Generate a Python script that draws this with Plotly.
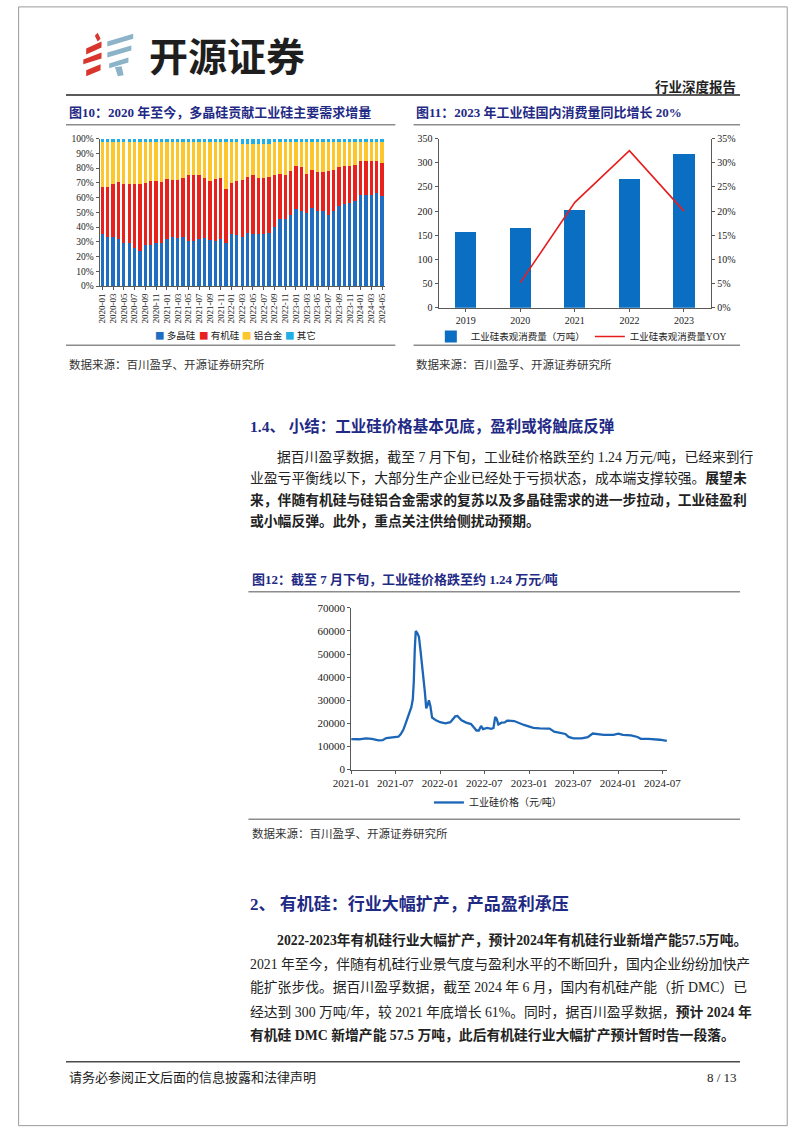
import plotly.graph_objects as go

W, H = 802, 1133

# ---------------- Data ----------------
months = ["2020-01","2020-02","2020-03","2020-04","2020-05","2020-06","2020-07","2020-08","2020-09","2020-10","2020-11","2020-12",
          "2021-01","2021-02","2021-03","2021-04","2021-05","2021-06","2021-07","2021-08","2021-09","2021-10","2021-11","2021-12",
          "2022-01","2022-02","2022-03","2022-04","2022-05","2022-06","2022-07","2022-08","2022-09","2022-10","2022-11","2022-12",
          "2023-01","2023-02","2023-03","2023-04","2023-05","2023-06","2023-07","2023-08","2023-09","2023-10","2023-11","2023-12",
          "2024-01","2024-02","2024-03","2024-04","2024-05"]
month_ticks = months[::2]

polysilicon = [35,33,33,32,29.5,29.5,26,24,28,28,29,29,
               32,33,32.5,33.5,30.5,30.5,32,32.5,31,30.5,32,29.5,
               35,34.5,33.5,36,35,35,35.5,36,40,45.5,45.5,48,
               52.5,51,49.5,53,51,51,48,51,54,55.5,56.5,58,
               61.5,61.5,61.5,63,61]
organosilicon = [32,34,36.5,38.5,39.5,40,43,45,42,43,42.5,41.5,
                 40.5,39,39.5,39.5,44.5,44.5,43,40.5,40.5,42,41,36.5,
                 35,36.5,38.5,38,40.5,38.5,38,38,35.5,30.5,30,30,
                 29,30,26.5,25.5,26.5,26,30,28,26.5,26,25,24,
                 23,23.5,23,21.5,22.5]
al_alloy = [30.5,30.5,28,27,28.5,28,28.5,28.5,27.5,26.5,26,27,
            25,25.5,25.5,24.5,22.5,22.5,22.5,24.5,26,25,24.5,31.5,
            27.5,26.5,24.5,22.5,21,23,23,22.5,22,21.5,22,19.5,
            16,16.5,21.5,19,20,20.5,19.5,18.5,17,16,16,15.5,
            13,12.5,13,13,14]
others = [2.5]*26 + [3.5]*6 + [2.5]*21
share_names = ["多晶硅", "有机硅", "铝合金", "其它"]

years = ["2019","2020","2021","2022","2023"]
consumption = [157,165,202,267,319]
consumption_yoy = [None,5.2,21.8,32.5,20.0]

price_dates = ["2021-01-01","2021-02-03","2021-03-02","2021-03-27","2021-04-23","2021-05-10","2021-05-25","2021-06-14",
               "2021-07-01","2021-07-14","2021-07-23","2021-08-03","2021-08-12","2021-08-25","2021-09-05","2021-09-11",
               "2021-09-15","2021-09-19","2021-09-23","2021-09-30","2021-10-06","2021-10-12","2021-10-17","2021-10-25",
               "2021-10-31","2021-11-05","2021-11-11","2021-11-16","2021-11-22","2021-11-29","2021-12-15","2022-01-01",
               "2022-01-23","2022-02-12","2022-03-04","2022-03-13","2022-03-30","2022-04-18","2022-05-08","2022-05-21",
               "2022-05-30","2022-06-09","2022-06-18","2022-06-26","2022-07-13","2022-07-30","2022-08-08","2022-08-15",
               "2022-08-21","2022-08-28","2022-09-10","2022-09-23","2022-10-03","2022-11-01","2022-11-21","2022-12-11",
               "2023-01-02","2023-01-19","2023-02-14","2023-03-26","2023-04-14","2023-05-11","2023-05-30","2023-06-12",
               "2023-07-02","2023-08-04","2023-08-30","2023-09-19","2023-10-09","2023-11-04","2023-12-13","2024-01-02",
               "2024-01-21","2024-02-23","2024-03-21","2024-04-03","2024-05-05","2024-06-01","2024-06-20","2024-07-19"]
price_values = [13200,13100,13500,13300,12600,12700,13600,13800,
                14100,14200,15200,17200,19800,23500,27000,30500,
                38000,52000,60000,59000,57500,52000,46000,39000,
                33000,26500,28000,30000,27500,22500,21300,20500,
                20000,20500,23000,23200,21300,20300,19700,18300,
                16900,16900,18900,17500,18000,17600,18000,22800,
                22000,19500,20300,20400,21200,21000,20000,19300,
                18600,18000,17800,17700,16400,15700,15400,14100,
                13500,13500,14000,15600,15400,15000,15000,15500,
                15000,14800,14100,13300,13300,13200,12900,12400]

# ---------------- Styling helpers ----------------
SERIF = "Liberation Serif, Noto Sans CJK SC"
CJK = "Noto Sans CJK SC"
NAVY = "#1F2A85"
AX = "#595959"
share_colors = ["#1F6EC1", "#E8211D", "#FDC62C", "#1FAEE6"]

def px(x):
    return x / W

def py(y):
    return 1 - y / H

fig = go.Figure()

# ---------------- Chart 1: stacked share ----------------
for name, vals, col in zip(share_names, [polysilicon, organosilicon, al_alloy, others], share_colors):
    fig.add_trace(go.Bar(x=months, y=vals, name=name, marker=dict(color=col, line=dict(width=0)),
                         width=0.62, xaxis="x", yaxis="y", showlegend=False))

# ---------------- Chart 2: consumption ----------------
fig.add_trace(go.Bar(x=years, y=consumption, name="工业硅表观消费量（万吨）",
                     marker=dict(color="#0A6EC3", line=dict(width=0)), width=0.39,
                     xaxis="x2", yaxis="y2", legend="legend2"))
fig.add_trace(go.Scatter(x=years, y=consumption_yoy, name="工业硅表观消费量YOY", mode="lines",
                         line=dict(color="#E61E1E", width=1.6), xaxis="x2", yaxis="y3", legend="legend2"))

# ---------------- Chart 3: price ----------------
fig.add_trace(go.Scatter(x=price_dates, y=price_values, name="工业硅价格（元/吨）", mode="lines",
                         line=dict(color="#1C66B8", width=2.3), xaxis="x4", yaxis="y4", legend="legend3"))

axis_common = dict(showline=True, linecolor=AX, linewidth=1, showgrid=False, zeroline=False,
                   ticks="outside", ticklen=3, tickcolor=AX, fixedrange=True)

fig.update_layout(
    width=W, height=H, autosize=False,
    margin=dict(l=0, r=0, t=0, b=0),
    paper_bgcolor="white", plot_bgcolor="white",
    barmode="stack",
    font=dict(family=SERIF, color="#222222"),
    xaxis=dict(domain=[px(85), px(382)], anchor="y", type="category", tickangle=-90,
               tickmode="array", tickvals=month_ticks, ticktext=month_ticks,
               tickfont=dict(size=9, family=SERIF, color="#222"), **axis_common),
    yaxis=dict(domain=[py(283), py(134)], anchor="x", range=[0, 100], dtick=10, ticksuffix="%",
               tickfont=dict(size=9.5, family=SERIF, color="#222"), **axis_common),
    xaxis2=dict(domain=[px(438), px(722)], anchor="y2", type="category",
                tickfont=dict(size=10, family=SERIF, color="#222"), **axis_common),
    yaxis2=dict(domain=[py(305), py(134)], anchor="x2", range=[0, 350], dtick=50,
                tickfont=dict(size=10, family=SERIF, color="#222"), **axis_common),
    yaxis3=dict(overlaying="y2", side="right", anchor="x2", range=[0, 35], dtick=5, ticksuffix="%",
                tickfont=dict(size=10, family=SERIF, color="#222"), **axis_common),
    xaxis4=dict(domain=[px(347), px(676)], anchor="y4", type="date",
                range=["2021-01-01", "2024-07-20"], tick0="2021-01-01", dtick="M6", tickformat="%Y-%m",
                tickfont=dict(size=11, family=SERIF, color="#222"), **axis_common),
    yaxis4=dict(domain=[py(771.7), py(608.3)], anchor="x4", range=[0, 70000], dtick=10000, tickformat="d",
                tickfont=dict(size=11, family=SERIF, color="#222"), **axis_common),
    legend2=dict(orientation="h", x=px(430), y=py(334), xanchor="left", yanchor="middle",
                 font=dict(size=9.5, family=SERIF, color="#222"), itemwidth=30, bgcolor="rgba(0,0,0,0)",
                 traceorder="normal"),
    legend3=dict(orientation="h", x=px(428), y=py(805), xanchor="left", yanchor="middle",
                 font=dict(size=10, family=SERIF, color="#222"), itemwidth=30, bgcolor="rgba(0,0,0,0)"),
    showlegend=True,
)

# ---------------- Page decorations ----------------
shapes = []

def hline(x0, x1, y, color="#8C8C8C", width=1.5):
    shapes.append(dict(type="line", xref="paper", yref="paper", x0=px(x0), x1=px(x1), y0=py(y), y1=py(y),
                       line=dict(color=color, width=width)))

def poly(points, color):
    path = "M " + " L ".join(f"{px(a):.5f},{py(b):.5f}" for a, b in points) + " Z"
    shapes.append(dict(type="path", xref="paper", yref="paper", path=path,
                       fillcolor=color, line=dict(width=0)))

shapes.append(dict(type="rect", xref="paper", yref="paper", x0=0.0008, x1=0.9990, y0=0.0012, y1=0.9992,
                   line=dict(color="#9A9A9A", width=1)))

hline(50, 752, 90, color="#5A5A5A", width=2)
hline(50, 393, 120)
hline(412, 752, 120)
hline(50, 393, 343)
hline(412, 752, 343)
hline(240, 752, 592)
hline(240, 752, 822)
hline(50, 752, 1067, color="#4A4A4A", width=1.5)

RED = "#D8362C"
BLU = "#8DB3C8"
poly([(80, 30), (83, 27), (86, 33), (83, 36)], RED)
poly([(71, 43), (87, 36), (87, 42), (71, 49)], RED)
poly([(68, 54), (87, 47), (87, 53), (68, 59)], RED)
poly([(71, 65), (86, 59), (86, 65), (71, 71)], RED)
poly([(93, 36), (120, 28), (120, 33), (93, 41)], BLU)
poly([(93, 47), (118, 40), (118, 45), (93, 52)], BLU)
poly([(95, 58), (115, 52), (115, 57), (95, 63)], BLU)
poly([(101, 62), (108, 61), (110, 70), (104, 71)], BLU)

fig.update_layout(shapes=shapes)

# ---------------- Text ----------------
ann = []

def text(x, y, s, size=14, color="#222222", family=SERIF, anchor="left"):
    ann.append(dict(xref="paper", yref="paper", x=px(x), y=py(y), text=s, showarrow=False,
                    xanchor=anchor, yanchor="middle", align=anchor,
                    font=dict(size=size, color=color, family=family)))

# compact legend for chart 1
for lx, name, col in zip([141, 186, 231, 276], share_names, share_colors):
    text(lx, 333, f"<span style='color:{col}'>■</span> {name}", size=9.5, family=CJK)

text(134, 49, "<b>开源证券</b>", size=39, color="#1E1E1E", family=CJK)
text(750, 82, "<b>行业深度报告</b>", size=13.5, color="#222", anchor="right")

text(51, 108, "<b>图10：2020 年至今，多晶硅贡献工业硅主要需求增量</b>", size=13, color=NAVY)
text(412, 108, "<b>图11：2023 年工业硅国内消费量同比增长 20%</b>", size=13, color=NAVY)

src = "数据来源：百川盈孚、开源证券研究所"
text(51, 362, src, size=11.5, color="#333")
text(412, 362, src, size=11.5, color="#333")

text(240, 425, "<b>1.4、 小结：工业硅价格基本见底，盈利或将触底反弹</b>", size=15.5, color=NAVY)
p1 = ["据百川盈孚数据，截至 7 月下旬，工业硅价格跌至约 1.24 万元/吨，已经来到行",
      "业盈亏平衡线以下，大部分生产企业已经处于亏损状态，成本端支撑较强。<b>展望未</b>",
      "<b>来，伴随有机硅与硅铝合金需求的复苏以及多晶硅需求的进一步拉动，工业硅盈利</b>",
      "<b>或小幅反弹。此外，重点关注供给侧扰动预期。</b>"]
p1_y = [456, 477.5, 499, 520.5]
for i, (s, yy) in enumerate(zip(p1, p1_y)):
    text(268 if i == 0 else 240, yy, s, size=13.8)

text(242, 580, "<b>图12：截至 7 月下旬，工业硅价格跌至约 1.24 万元/吨</b>", size=13, color=NAVY)
text(242, 836, src, size=11.5, color="#333")

text(240, 908, "<b>2、 有机硅：行业大幅扩产，产品盈利承压</b>", size=17, color=NAVY)
p2 = ["<b>2022-2023年有机硅行业大幅扩产，预计2024年有机硅行业新增产能57.5万吨。</b>",
      "2021 年至今，伴随有机硅行业景气度与盈利水平的不断回升，国内企业纷纷加快产",
      "能扩张步伐。据百川盈孚数据，截至 2024 年 6 月，国内有机硅产能（折 DMC）已",
      "经达到 300 万吨/年，较 2021 年底增长 61%。同时，据百川盈孚数据，<b>预计 2024 年</b>",
      "<b>有机硅 DMC 新增产能 57.5 万吨，此后有机硅行业大幅扩产预计暂时告一段落。</b>"]
p2_y = [944, 968, 992.5, 1016.5, 1040.5]
for i, (s, yy) in enumerate(zip(p2, p2_y)):
    text(268 if i == 0 else 240, yy, s, size=13.8)

text(51, 1083, "请务必参阅正文后面的信息披露和法律声明", size=13, color="#222")
text(751, 1083, "8 / 13", size=13, color="#222", anchor="right")

fig.update_layout(annotations=ann)

fig.write_html("out.html")
